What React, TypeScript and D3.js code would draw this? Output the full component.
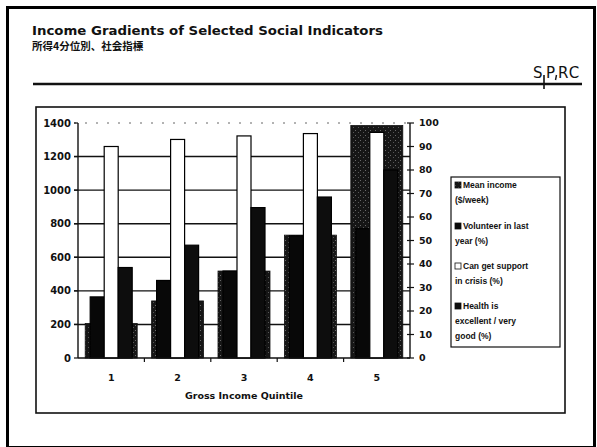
import React from "react";
import * as d3 from "d3";

// Gross income quintiles
const quintiles = ["1", "2", "3", "4", "5"];

// Primary axis: mean income ($/week)
const meanIncome = [205, 340, 518, 732, 1385];

// Secondary axis series (%)
const volunteer = [26, 33, 37, 52, 55];
const crisisSupport = [90, 93, 94.5, 95.5, 96];
const goodHealth = [38.5, 48, 64, 68.5, 80];

const incomeTicks = [0, 200, 400, 600, 800, 1000, 1200, 1400];
const pctTicks = [0, 10, 20, 30, 40, 50, 60, 70, 80, 90, 100];

const legendLines = [
  ["Mean income", "($/week)"],
  ["Volunteer in last", "year (%)"],
  ["Can get support", "in crisis (%)"],
  ["Health is", "excellent / very", "good (%)"],
];

const W = 597;
const H = 447;
const plot = { left: 78, right: 410, top: 123, bottom: 358 };

export default function App() {
  const x = d3
    .scaleBand<string>()
    .domain(quintiles)
    .range([plot.left, plot.right])
    .paddingInner(0.217)
    .paddingOuter(0.1085);

  const yL = d3.scaleLinear().domain([0, 1400]).range([plot.bottom, plot.top]);
  const yR = d3.scaleLinear().domain([0, 100]).range([plot.bottom, plot.top]);

  const subW = 42;
  const sub = d3
    .scaleBand<string>()
    .domain(["vol", "sup", "hlth"])
    .range([0, subW]);

  const secondary = [
    { key: "vol", values: volunteer, fill: "#080808", stroke: "#000" },
    { key: "sup", values: crisisSupport, fill: "#ffffff", stroke: "#000" },
    { key: "hlth", values: goodHealth, fill: "#0d0d0d", stroke: "#000" },
  ];

  const axisFont = "'DejaVu Sans', Verdana, sans-serif";
  const legendFont = "'Liberation Sans', Arial, sans-serif";
  const logoFont = "'DejaVu Sans', sans-serif";

  const swatchFills = ["url(#incomeFill)", "#080808", "#ffffff", "#0d0d0d"];
  const legendStartY = 188;
  const blockGap = [0, 41, 81, 121];

  return (
    <svg
      width={W}
      height={H}
      viewBox={`0 0 ${W} ${H}`}
      style={{ position: "absolute", left: 0, top: 0, background: "#fff" }}
    >
      <defs>
        <pattern id="incomeFill" width="5" height="5" patternUnits="userSpaceOnUse">
          <rect width="5" height="5" fill="#161616" />
          <rect x="0" y="0" width="1" height="1" fill="#6a6a6a" />
          <rect x="3" y="2" width="1" height="1" fill="#585858" />
        </pattern>
      </defs>

      {/* slide frame */}
      <rect x={7.5} y={7.5} width={587} height={440} fill="none" stroke="#000" strokeWidth={3} />

      {/* heading */}
      <text
        x={32}
        y={35}
        fontFamily={axisFont}
        fontWeight="bold"
        fontSize={13}
        textLength={351}
        lengthAdjust="spacingAndGlyphs"
        fill="#111"
      >
        Income Gradients of Selected Social Indicators
      </text>
      <text
        x={32}
        y={50}
        fontFamily="'Noto Sans CJK JP', sans-serif"
        fontWeight="bold"
        fontSize={10.5}
        fill="#111"
      >
        所得4分位別、社会指標
      </text>

      {/* SPRC mark */}
      <text x={533} y={78} fontFamily={logoFont} fontSize={15} fill="#111">
        S
      </text>
      <text x={546} y={78} fontFamily={logoFont} fontSize={15} fill="#111">
        P
      </text>
      <text x={558} y={78} fontFamily={logoFont} fontSize={15} fill="#111" letterSpacing={1}>
        RC
      </text>
      <line x1={544} y1={75} x2={544} y2={89} stroke="#111" strokeWidth={1.6} />
      <line x1={556.5} y1={75} x2={555.5} y2={80} stroke="#111" strokeWidth={1.4} />
      <line x1={33} y1={84} x2={582} y2={84} stroke="#111" strokeWidth={2.6} />

      {/* chart frame */}
      <rect x={36} y={107} width={529} height={306} fill="#fff" stroke="#111" strokeWidth={1.6} />

      {/* gridlines */}
      {incomeTicks.map((t) =>
        t === 0 ? null : (
          <line
            key={`g${t}`}
            x1={plot.left - 4}
            x2={plot.right}
            y1={yL(t)}
            y2={yL(t)}
            stroke={t === 1400 ? "#666" : "#111"}
            strokeWidth={t === 1400 ? 1 : 1.4}
            strokeDasharray={t === 1400 ? "2 9" : undefined}
          />
        )
      )}

      {/* mean income bars (primary axis) */}
      {quintiles.map((q, i) => (
        <rect
          key={`m${q}`}
          x={x(q)!}
          y={yL(meanIncome[i])}
          width={x.bandwidth()}
          height={plot.bottom - yL(meanIncome[i])}
          fill="url(#incomeFill)"
          stroke="#111"
          strokeWidth={0.8}
        />
      ))}

      {/* percentage bars (secondary axis) */}
      {secondary.map((s) =>
        quintiles.map((q, i) => {
          const bx = x(q)! + (x.bandwidth() - subW) / 2 + sub(s.key)!;
          return (
            <rect
              key={`${s.key}${q}`}
              x={bx}
              y={yR(s.values[i])}
              width={sub.bandwidth()}
              height={plot.bottom - yR(s.values[i])}
              fill={s.fill}
              stroke={s.stroke}
              strokeWidth={1.2}
            />
          );
        })
      )}

      {/* left axis */}
      <line x1={plot.left} x2={plot.left} y1={plot.top} y2={plot.bottom} stroke="#111" strokeWidth={1.4} />
      {incomeTicks.map((t) => (
        <g key={`l${t}`}>
          <line x1={plot.left - 4} x2={plot.left} y1={yL(t)} y2={yL(t)} stroke="#111" strokeWidth={1.2} />
          <text
            x={plot.left - 7}
            y={yL(t)}
            dy="0.35em"
            textAnchor="end"
            fontFamily={axisFont}
            fontWeight="bold"
            fontSize={10}
            fill="#111"
          >
            {t}
          </text>
        </g>
      ))}

      {/* right axis */}
      <line x1={plot.right} x2={plot.right} y1={plot.top} y2={plot.bottom} stroke="#111" strokeWidth={1.4} />
      {pctTicks.map((t) => (
        <g key={`r${t}`}>
          <line x1={plot.right - 3} x2={plot.right + 4} y1={yR(t)} y2={yR(t)} stroke="#111" strokeWidth={1.2} />
          <text
            x={plot.right + 9}
            y={yR(t)}
            dy="0.35em"
            textAnchor="start"
            fontFamily={axisFont}
            fontWeight="bold"
            fontSize={9.5}
            fill="#111"
          >
            {t}
          </text>
        </g>
      ))}

      {/* category axis */}
      <line x1={plot.left} x2={plot.right} y1={plot.bottom} y2={plot.bottom} stroke="#111" strokeWidth={1.4} />
      {quintiles.map((q, i) => {
        const edge = plot.left + i * x.step();
        return (
          <g key={`c${q}`}>
            {i > 0 && (
              <line x1={edge} x2={edge} y1={plot.bottom} y2={plot.bottom + 4} stroke="#111" strokeWidth={1.2} />
            )}
            <text
              x={x(q)! + x.bandwidth() / 2}
              y={381}
              textAnchor="middle"
              fontFamily={axisFont}
              fontWeight="bold"
              fontSize={9.5}
              fill="#111"
            >
              {q}
            </text>
          </g>
        );
      })}
      <text
        x={(plot.left + plot.right) / 2}
        y={399}
        textAnchor="middle"
        fontFamily={axisFont}
        fontWeight="bold"
        fontSize={9.5}
        fill="#111"
      >
        Gross Income Quintile
      </text>

      {/* legend */}
      <rect x={451} y={177} width={109} height={170} fill="#fff" stroke="#111" strokeWidth={1.2} />
      {legendLines.map((lines, k) => {
        const y0 = legendStartY + blockGap[k];
        return (
          <g key={`lg${k}`}>
            <rect
              x={455}
              y={y0 - 6}
              width={6}
              height={6}
              fill={swatchFills[k]}
              stroke="#111"
              strokeWidth={0.8}
            />
            {lines.map((ln, j) => (
              <text
                key={j}
                x={j === 0 ? 463 : 455}
                y={y0 + j * 15}
                fontFamily={legendFont}
                fontWeight="bold"
                fontSize={8.5}
                fill="#111"
              >
                {ln}
              </text>
            ))}
          </g>
        );
      })}
    </svg>
  );
}
